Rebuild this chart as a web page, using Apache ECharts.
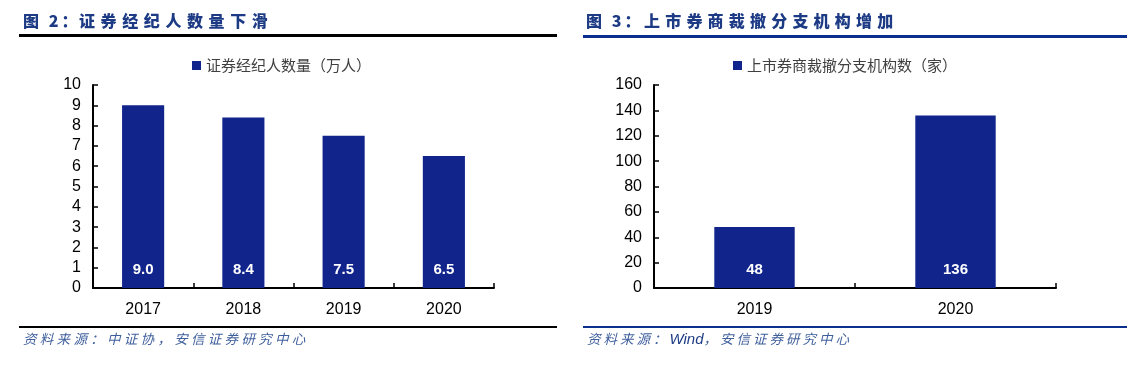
<!DOCTYPE html>
<html>
<head>
<meta charset="utf-8">
<script src="https://cdn.jsdelivr.net/npm/echarts@6/dist/echarts.min.js"></script>
<style>
  html, body { margin: 0; padding: 0; background: #fff; }
  #wrap { position: relative; width: 1141px; height: 382px; overflow: hidden; }
  #chart { position: absolute; left: 0; top: 0; width: 1141px; height: 382px; }
  .ov { position: absolute; z-index: 5; white-space: nowrap; }
  .title { font-family: "Noto Sans CJK SC", sans-serif; font-weight: 900; font-size: 16px; color: #1d3b85; line-height: 20px; }
  .src { font-family: "Noto Sans CJK SC", sans-serif; font-style: italic; font-size: 13.5px; color: #3f5f9c; line-height: 18px; }
  .rule { position: absolute; z-index: 5; }
</style>
</head>
<body>
<div id="wrap">
  <div id="chart"></div>
  <div class="ov title" style="left:23px;top:10px;letter-spacing:3px;">图 2：</div>
  <div class="ov title" style="left:79px;top:10px;letter-spacing:5.6px;">证券经纪人数量下滑</div>
  <div class="rule" style="left:19px;top:34px;width:538px;height:3px;background:#000;"></div>
  <div class="ov title" style="left:586px;top:10px;letter-spacing:3px;">图 3：</div>
  <div class="ov title" style="left:644px;top:10px;letter-spacing:5.2px;">上市券商裁撤分支机构增加</div>
  <div class="rule" style="left:583px;top:35px;width:544px;height:3px;background:#0b2f8e;"></div>
  <div class="rule" style="left:19px;top:326px;width:538px;height:2px;background:#000;"></div>
  <div class="rule" style="left:583px;top:326px;width:544px;height:2px;background:#0b2f8e;"></div>
  <div class="ov src" style="left:23px;top:329px;letter-spacing:3.3px;">资料来源：中证协，安信证券研究中心</div>
  <div class="ov src" style="left:587px;top:329px;letter-spacing:3px;">资料来源：<span style="font-family:'Liberation Sans',sans-serif;letter-spacing:0;font-size:15px;color:#1d3b85;">Wind</span>，安信证券研究中心</div>
</div>
<script>
// ---- data ----
const cats1 = ['2017', '2018', '2019', '2020'];
const vals1 = [9.0, 8.4, 7.5, 6.5];
const name1 = '证券经纪人数量（万人）';
const cats2 = ['2019', '2020'];
const vals2 = [48, 136];
const name2 = '上市券商裁撤分支机构数（家）';

const barColor = '#10248c';
const axisFont = { fontFamily: 'Liberation Sans, Arial, sans-serif', fontSize: 16, color: '#000' };

function yAxisCfg(grid, max, interval) {
  return {
    type: 'value', gridIndex: grid, min: 0, max: max, interval: interval,
    axisLine: { show: true, lineStyle: { color: '#000', width: 2 } },
    axisTick: { show: true, inside: true, length: 5, lineStyle: { color: '#000', width: 1.5 } },
    axisLabel: Object.assign({ margin: 12 }, axisFont),
    splitLine: { show: false }
  };
}
function xAxisCfg(grid, data) {
  return {
    type: 'category', gridIndex: grid, data: data,
    axisLine: { show: true, lineStyle: { color: '#000', width: 2 } },
    axisTick: { show: true, inside: true, length: 5, lineStyle: { color: '#000', width: 1.5 } },
    axisLabel: Object.assign({ margin: 14 }, axisFont)
  };
}
function barLabel(fmt) {
  return {
    show: true, position: 'insideBottom', distance: 11,
    color: '#fff', fontWeight: 'bold', fontSize: 15,
    fontFamily: 'Liberation Sans, Arial, sans-serif',
    formatter: fmt
  };
}
const legendText = { fontFamily: 'Noto Sans CJK SC, sans-serif', fontSize: 15, color: '#404040' };

const chart = echarts.init(document.getElementById('chart'), null, { renderer: 'canvas' });
chart.setOption({
  animation: false,
  backgroundColor: '#fff',
  legend: [
    { data: [name1], left: 192, top: 58, icon: 'rect', itemWidth: 9, itemHeight: 9, itemGap: 4, textStyle: legendText, padding: 0 },
    { data: [name2], left: 733, top: 58, icon: 'rect', itemWidth: 9, itemHeight: 9, itemGap: 4, textStyle: legendText, padding: 0 }
  ],
  grid: [
    { left: 93, right: 647, top: 85, bottom: 94 },
    { left: 654, right: 85, top: 85, bottom: 94 }
  ],
  xAxis: [xAxisCfg(0, cats1), xAxisCfg(1, cats2)],
  yAxis: [yAxisCfg(0, 10, 1), yAxisCfg(1, 160, 20)],
  series: [
    { name: name1, type: 'bar', xAxisIndex: 0, yAxisIndex: 0, data: vals1, barWidth: '42%',
      itemStyle: { color: barColor }, label: barLabel(p => p.value.toFixed(1)) },
    { name: name2, type: 'bar', xAxisIndex: 1, yAxisIndex: 1, data: vals2, barWidth: '40%',
      itemStyle: { color: barColor }, label: barLabel(p => String(p.value)) }
  ]
});
</script>
</body>
</html>
